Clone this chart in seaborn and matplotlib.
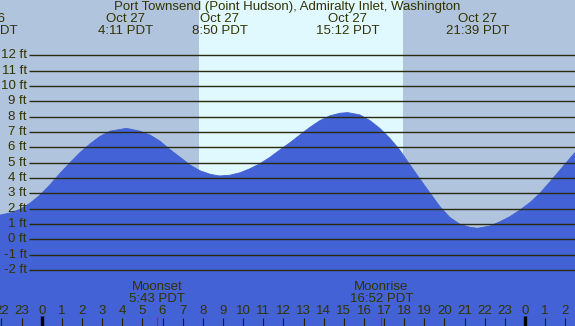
import matplotlib
matplotlib.use("Agg")
import matplotlib.pyplot as plt
import seaborn as sns
import numpy as np

# ---------------- data ----------------
title = "Port Townsend (Point Hudson), Admiralty Inlet, Washington"

# hours relative to Oct 27 00:00 PDT, tide height in ft
hours = [-2.07, -1.57, -1.08, -0.58, -0.08, 0.41, 0.91, 1.41, 1.90, 2.40,
         2.89, 3.39, 3.89, 4.18, 4.38, 4.88, 5.38, 5.87, 6.37, 6.87,
         7.36, 7.86, 8.36, 8.83, 9.35, 9.85, 10.34, 10.84, 11.34, 11.83,
         12.33, 12.82, 13.32, 13.82, 14.31, 14.81, 15.20, 15.80, 16.30, 16.80,
         17.29, 17.79, 18.29, 18.78, 19.28, 19.78, 20.27, 20.77, 21.27, 21.65,
         22.26, 22.76, 23.25, 23.75, 24.25, 24.74, 25.24, 25.74, 26.23, 26.48]
heights = [1.58, 1.72, 1.95, 2.35, 2.89, 3.55, 4.30, 5.00, 5.65, 6.22,
           6.70, 7.05, 7.16, 7.23, 7.19, 7.05, 6.80, 6.40, 5.85, 5.35,
           4.85, 4.47, 4.24, 4.13, 4.18, 4.34, 4.60, 4.93, 5.35, 5.83,
           6.30, 6.80, 7.30, 7.74, 8.05, 8.22, 8.26, 8.11, 7.74, 7.22,
           6.58, 5.80, 4.85, 3.93, 3.02, 2.12, 1.42, 0.98, 0.78, 0.72,
           0.87, 1.15, 1.48, 1.91, 2.40, 3.00, 3.75, 4.52, 5.28, 5.65]

# tide extremes labels
tide_hours = [-2.8, 4.18, 8.83, 15.20, 21.65]
tide_dates = ["Oct 26", "Oct 27", "Oct 27", "Oct 27", "Oct 27"]
tide_times = ["21:14 PDT", "4:11 PDT", "8:50 PDT", "15:12 PDT", "21:39 PDT"]

sunrise_h = 7.81
sunset_h = 17.94

moon_hours = [5.717, 16.867]
moon_names = ["Moonset", "Moonrise"]
moon_times = ["5:43 PDT", "16:52 PDT"]

ft_levels = list(range(-2, 13))
ft_labels = [f"{v} ft" for v in ft_levels]

tick_hours = list(range(-2, 27))
tick_labels = [str(h % 24) for h in tick_hours]

# ---------------- style ----------------
NIGHT = "#b0c4de"
DAY = "#e0f8ff"
WATER = "#4262d6"
INK = "#333300"

sns.set_theme(style="white")
plt.rcParams["font.family"] = ["Liberation Sans", "DejaVu Sans"]

fig = plt.figure(figsize=(5.75, 3.26), dpi=100)
fig.patch.set_facecolor(NIGHT)
ax = fig.add_axes([0, 0, 1, 1])
ax.set_facecolor(NIGHT)

XMIN, XMAX = -2.07, 26.48
YMIN, YMAX = -5.65, 15.6
ax.set_xlim(XMIN, XMAX)
ax.set_ylim(YMIN, YMAX)

# daylight band
ax.axvspan(sunrise_h, sunset_h, color=DAY, lw=0, zorder=1)

# water
ax.fill_between(hours, heights, YMIN - 1, color=WATER, lw=0, zorder=2)
sns.lineplot(x=hours, y=heights, ax=ax, color=WATER, lw=0.6, zorder=2,
             sort=False, estimator=None)

FS = 9.5

# horizontal grid lines with labels
line_start = -0.63
for v, lab in zip(ft_levels, ft_labels):
    ax.hlines(v, line_start, XMAX, color="#2a2a10", lw=1.0, zorder=3)
    ax.text(-0.73, v, lab, ha="right", va="center", fontsize=FS,
            color=INK, zorder=4)

# title and tide labels
ax.text(12.2, 15.15, title, ha="center", va="center", fontsize=FS,
        color=INK, zorder=4)
for h, d, t in zip(tide_hours, tide_dates, tide_times):
    ax.text(h, 14.37, d, ha="center", va="center", fontsize=FS, color=INK,
            zorder=4, clip_on=False)
    ax.text(h, 13.58, t, ha="center", va="center", fontsize=FS, color=INK,
            zorder=4, clip_on=False)

# moon labels
for h, n, t in zip(moon_hours, moon_names, moon_times):
    ax.text(h, -3.12, n, ha="center", va="center", fontsize=FS, color=INK,
            zorder=4)
    ax.text(h, -3.90, t, ha="center", va="center", fontsize=FS, color=INK,
            zorder=4)
    ax.vlines(h, YMIN, -5.05, color="red", lw=0.8, zorder=4)

# hour ticks and labels
for h, lab in zip(tick_hours, tick_labels):
    if h % 24 == 0:
        ax.vlines(h, YMIN, -5.0, color="black", lw=2.4, zorder=4)
    else:
        ax.vlines(h, YMIN, -5.13, color="#222200", lw=0.8, zorder=4)
    ax.text(h, -4.68, lab, ha="center", va="center", fontsize=FS,
            color=INK, zorder=4)

ax.set_xticks([])
ax.set_yticks([])
for s in ax.spines.values():
    s.set_visible(False)

fig.savefig("out.png", dpi=100, facecolor=fig.get_facecolor())
